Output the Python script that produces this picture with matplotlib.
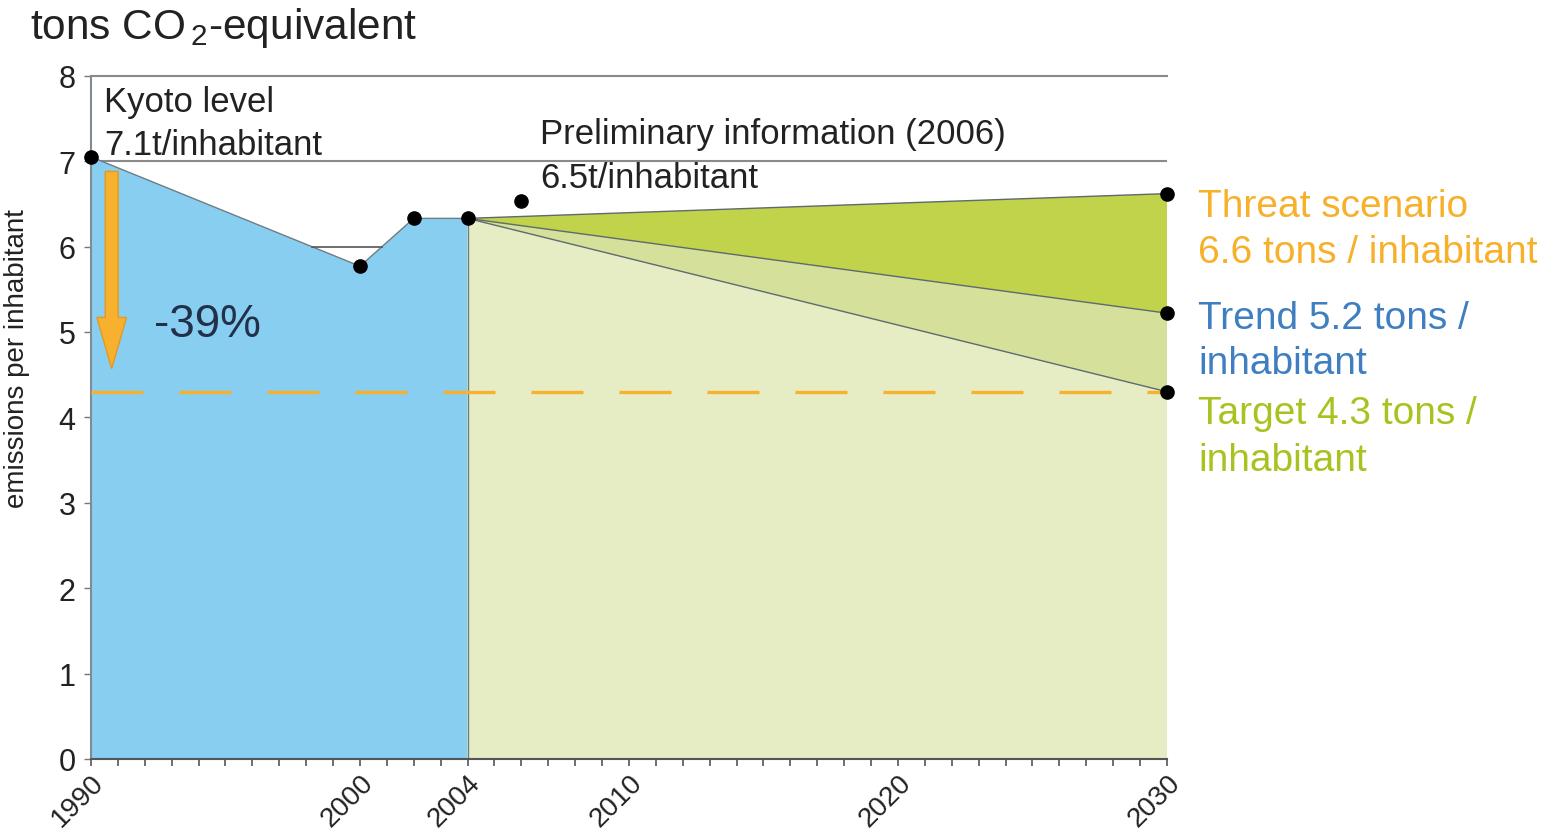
import numpy as np
import matplotlib
matplotlib.use("Agg")
import matplotlib.pyplot as plt
from matplotlib.patches import FancyArrow

plt.rcParams['font.family'] = ['Liberation Sans', 'DejaVu Sans']
plt.rcParams['mathtext.fontset'] = 'custom'
plt.rcParams['mathtext.rm'] = 'Liberation Sans'

# ---- data ----
hist_years = [1990, 2000, 2002, 2004]
hist_values = [7.05, 5.77, 6.33, 6.33]
prelim_year = [2006]
prelim_value = [6.53]
proj_years = [2004, 2030]
threat_values = [6.33, 6.62]
trend_values = [6.33, 5.22]
target_values = [6.33, 4.30]
target_level = 4.3
kyoto_level = 7.0
dip_level = 6.0
major_ticks = [1990, 2000, 2004, 2010, 2020, 2030]
y_ticks = [0, 1, 2, 3, 4, 5, 6, 7, 8]

blue = '#88CEF0'
light_green = '#E6EDC4'
mid_green = '#D5E19B'
dark_green = '#C1D24B'
orange = '#F8B12F'
edge = '#6F7D82'

fig = plt.figure(figsize=(15.5, 8.37), dpi=100)
ax = fig.add_axes([0.0587, 0.092, 0.6942, 0.8163])
ax.set_xlim(1990, 2030)
ax.set_ylim(0, 8)

# areas
ax.fill_between(hist_years, hist_values, 0, facecolor=blue, edgecolor='none', zorder=1)
ax.plot(hist_years, hist_values, color=edge, lw=1.0, zorder=2)
ax.fill_between(proj_years, target_values, 0, facecolor=light_green, edgecolor='none', zorder=1)
ax.fill_between(proj_years, target_values, trend_values, facecolor=mid_green, edgecolor='none', zorder=1)
ax.fill_between(proj_years, trend_values, threat_values, facecolor=dark_green, edgecolor='none', zorder=1)
for vals in (threat_values, trend_values, target_values):
    ax.plot(proj_years, vals, color='#5E6A6E', lw=1.0, zorder=3)
ax.plot([hist_years[-1], hist_years[-1]], [0, hist_values[-1]], color=edge, lw=1.0, zorder=2)

# small horizontal line across the dip
x_left = np.interp(dip_level, hist_values[1::-1], hist_years[1::-1])
x_right = np.interp(dip_level, hist_values[1:3], hist_years[1:3])
ax.plot([x_left, x_right], [dip_level, dip_level], color='#555555', lw=1.2, zorder=2)

# reference lines at 7 and 8
ax.axhline(kyoto_level, color='#8A8A8A', lw=1.5, zorder=0.5)
ax.axhline(8, color='#8A8A8A', lw=1.5, zorder=0.5, clip_on=False)

# target dashed line
ln, = ax.plot([1990, 2030], [target_level, target_level], color=orange, lw=2.4, zorder=4)
ln.set_dashes([15.6, 10.8])

# dots
ax.plot(hist_years, hist_values, 'o', color='black', ms=9.5, zorder=6, clip_on=False)
ax.plot(prelim_year, prelim_value, 'o', color='black', ms=9.5, zorder=6, clip_on=False)
ax.plot([2030, 2030, 2030], [threat_values[1], trend_values[1], target_values[1]], 'o',
        color='black', ms=9.5, zorder=6, clip_on=False)

# arrow
arr = FancyArrow(1990.77, 6.88, 0, -2.31, width=0.48, head_width=1.1, head_length=0.6,
                 length_includes_head=True, facecolor=orange, edgecolor='#E39A1E', lw=1.0, zorder=5)
ax.add_patch(arr)

# texts
ax.text(1990.5, 7.70, 'Kyoto level', fontsize=25, color='#222222', va='center', ha='left')
ax.text(1990.5, 7.19, '7.1t/inhabitant', fontsize=25, color='#222222', va='center', ha='left')
ax.text(2006.7, 7.32, 'Preliminary information (2006)', fontsize=25, color='#222222', va='center', ha='left')
ax.text(2006.7, 6.81, '6.5t/inhabitant', fontsize=25, color='#222222', va='center', ha='left')
ax.text(1992.35, 5.09, '-39%', fontsize=33, color='#22304A', va='center', ha='left')

rx = 2031.15
ax.text(rx, 6.48, 'Threat scenario', fontsize=28, color='#F7B02A', va='center', ha='left', clip_on=False)
ax.text(rx, 5.94, '6.6 tons / inhabitant', fontsize=28, color='#F7B02A', va='center', ha='left', clip_on=False)
ax.text(rx, 5.16, 'Trend 5.2 tons /', fontsize=28, color='#3F7FC1', va='center', ha='left', clip_on=False)
ax.text(rx, 4.64, 'inhabitant', fontsize=28, color='#3F7FC1', va='center', ha='left', clip_on=False)
ax.text(rx, 4.05, 'Target 4.3 tons /', fontsize=28, color='#A6C31F', va='center', ha='left', clip_on=False)
ax.text(rx, 3.50, 'inhabitant', fontsize=28, color='#A6C31F', va='center', ha='left', clip_on=False)

fig.text(0.0194, 0.9665, 'tons CO$_\\mathregular{\\,2}$-equivalent', fontsize=30.5, color='#222222',
         va='center', ha='left')

# axes styling
for s in ('top', 'right'):
    ax.spines[s].set_visible(False)
ax.spines['left'].set_color('#7F8C93')
ax.spines['left'].set_linewidth(1.5)
ax.spines['bottom'].set_color('#555555')
ax.spines['bottom'].set_linewidth(1.5)
ax.set_xticks(major_ticks)
ax.set_xticks(np.arange(1990, 2031, 1), minor=True)
ax.set_yticks(y_ticks)
ax.tick_params(axis='x', which='both', direction='out', length=5, width=1.2, colors='#555555',
               labelsize=20, labelcolor='#222222', pad=2)
ax.tick_params(axis='y', direction='out', length=5, width=1.0, colors='#777777',
               labelsize=22, labelcolor='#222222', pad=6)
for lab in ax.get_xticklabels():
    lab.set_rotation(45)
    lab.set_ha('right')
    lab.set_va('top')
    lab.set_rotation_mode('anchor')
ax.set_ylabel('emissions per inhabitant', fontsize=20, color='#222222')
ax.yaxis.set_label_coords(-0.057, 0.588)

fig.savefig('out.png', dpi=100)
